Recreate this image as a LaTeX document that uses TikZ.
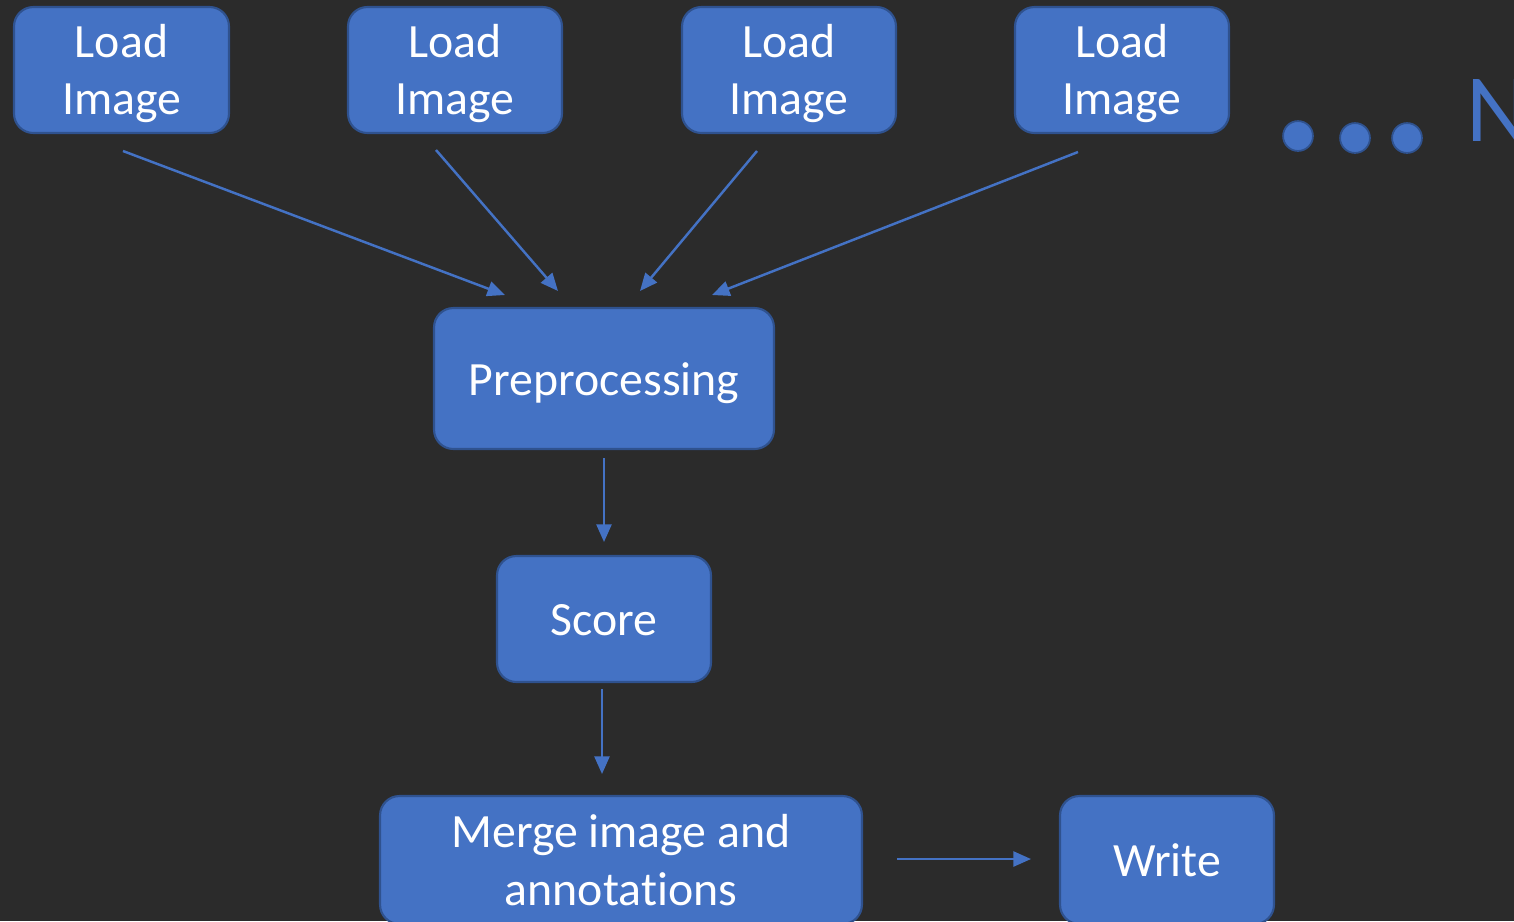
\documentclass[tikz,border=0pt]{standalone}
\usepackage{fontspec}
\setmainfont[Ligatures=NoCommon]{Carlito}
\usetikzlibrary{arrows.meta}
\definecolor{bgdark}{HTML}{2B2B2B}
\definecolor{boxblue}{HTML}{4472C4}
\definecolor{boxedge}{HTML}{2F528F}
\tikzset{
  stepbox/.style={draw=boxedge, line width=1.2pt, fill=boxblue, rounded corners=11pt,
    inner sep=0pt},
  txt/.style={text=white, align=center, inner sep=0pt, font=\fontsize{27.2}{33}\selectfont},
  flow/.style={draw=boxblue, line width=1.4pt,
    -{Triangle[length=10pt,width=8.5pt]}},
  dot/.style={circle, draw=boxedge, line width=1pt, fill=boxblue, minimum size=17pt, inner sep=0pt}
}
\begin{document}
\begin{tikzpicture}[x=0.02cm, y=-0.02cm]
  \clip (0,0) rectangle (1514,921);
  \fill[bgdark] (0,0) rectangle (1514,921);

  % image loaders
  \node[stepbox, minimum width=4.3cm, minimum height=2.52cm] (l1) at (121.5,70) {};
  \node[stepbox, minimum width=4.28cm, minimum height=2.52cm] (l2) at (455,70) {};
  \node[stepbox, minimum width=4.28cm, minimum height=2.52cm] (l3) at (789,70) {};
  \node[stepbox, minimum width=4.28cm, minimum height=2.52cm] (l4) at (1122,70) {};
  \node[txt, yshift=-2pt] (l1t) at (l1.center) {Load\\Image};
  \node[txt, yshift=-2pt] (l2t) at (l2.center) {Load\\Image};
  \node[txt, yshift=-2pt] (l3t) at (l3.center) {Load\\Image};
  \node[txt, yshift=-2pt] (l4t) at (l4.center) {Load\\Image};

  % more loaders
  \node[dot] (d1) at (1298,136) {};
  \node[dot] (d2) at (1355,138) {};
  \node[dot] (d3) at (1407,138) {};
  \node[anchor=west, text=boxblue, inner sep=0pt, font=\fontsize{55}{60}\selectfont] (nn) at (1466,110) {N};

  % pipeline
  \node[stepbox, minimum width=6.8cm, minimum height=2.82cm] (pre) at (604,378.5) {};
  \node[txt, yshift=-2.6pt] (pret) at (pre.center) {Preprocessing};
  \node[stepbox, minimum width=4.28cm, minimum height=2.52cm] (score) at (604,619) {};
  \node[txt, yshift=-0.8pt] (scoret) at (score.center) {Score};
  \node[stepbox, minimum width=9.64cm, minimum height=2.56cm] (merge) at (621,860) {};
  \node[txt] (merget) at (merge.center) {Merge image and\\annotations};
  \node[stepbox, minimum width=4.28cm, minimum height=2.56cm] (write) at (1167,860) {};
  \node[txt] (writet) at (write.center) {Write};

  % arrow ends
  \coordinate (s1) at (123,151);  \coordinate (e1) at (505,295);
  \coordinate (s2) at (436,150);  \coordinate (e2) at (558,291);
  \coordinate (s3) at (757,151);  \coordinate (e3) at (640,291);
  \coordinate (s4) at (1078,152); \coordinate (e4) at (712,295);
  \coordinate (s5) at (604,458);  \coordinate (e5) at (604,542);
  \coordinate (s6) at (602,689);  \coordinate (e6) at (602,774);
  \coordinate (s7) at (897,859);  \coordinate (e7) at (1031,859);

  \draw[flow] (s1) -- (e1);
  \draw[flow] (s2) -- (e2);
  \draw[flow] (s3) -- (e3);
  \draw[flow] (s4) -- (e4);
  \draw[flow] (s5) -- (e5);
  \draw[flow] (s6) -- (e6);
  \draw[flow] (s7) -- (e7);
\end{tikzpicture}
\end{document}
